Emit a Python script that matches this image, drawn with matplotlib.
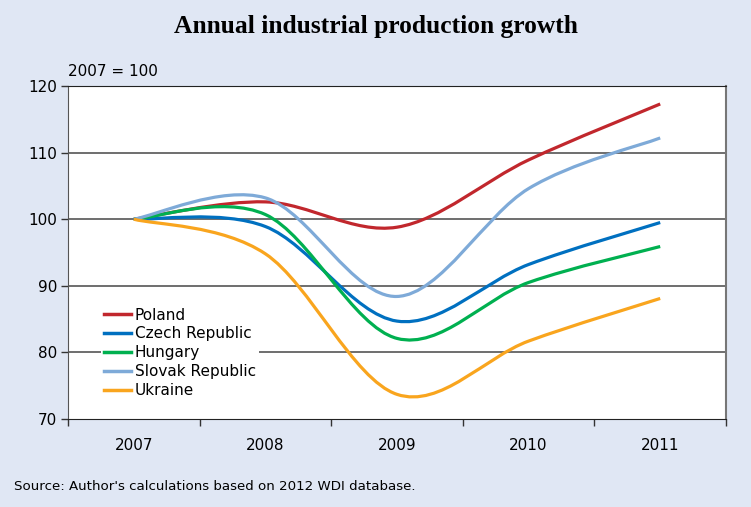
import numpy as np
import matplotlib.pyplot as plt
from matplotlib.path import Path
from matplotlib.patches import PathPatch
from matplotlib.lines import Line2D

years = ['2007', '2008', '2009', '2010', '2011']
poland = [100, 102.6, 98.8, 108.9, 117.3]
czech = [100, 98.9, 84.7, 93.2, 99.5]
hungary = [100, 100.7, 82.1, 90.5, 95.9]
slovak = [100, 103.2, 88.4, 104.6, 112.2]
ukraine = [100, 94.8, 73.7, 81.7, 88.1]

names = ['Poland', 'Czech Republic', 'Hungary', 'Slovak Republic', 'Ukraine']
series = [poland, czech, hungary, slovak, ukraine]
colors = ['#c1272d', '#0070c0', '#00b050', '#7eaad8', '#f9a51e']


def smooth_path(x, y):
    # excel style smoothed line: bezier with catmull-rom control points
    pts = np.column_stack([x, y]).astype(float)
    n = len(pts)
    verts = [pts[0]]
    codes = [Path.MOVETO]
    for i in range(n - 1):
        p0 = pts[i - 1] if i > 0 else pts[i]
        p1 = pts[i]
        p2 = pts[i + 1]
        p3 = pts[i + 2] if i + 2 < n else pts[i + 1]
        c1 = p1 + (p2 - p0) / 6.0
        c2 = p2 - (p3 - p1) / 6.0
        verts += [c1, c2, p2]
        codes += [Path.CURVE4] * 3
    return Path(verts, codes)


fig = plt.figure(figsize=(7.51, 5.07), dpi=100, facecolor='#e0e7f4')
ax = fig.add_axes([68 / 751, 1 - 419 / 507, 658 / 751, 333 / 507])
ax.set_facecolor('white')

x = np.arange(len(years))
for vals, c in zip(series, colors):
    ax.add_patch(PathPatch(smooth_path(x, vals), facecolor='none', edgecolor=c,
                           lw=2.3, capstyle='butt', zorder=3))

ax.set_xlim(-0.5, len(years) - 0.5)
ax.set_ylim(70, 120)
ax.set_yticks(np.arange(70, 121, 10))
for v in [80, 90, 100, 110]:
    ax.axhline(v, color='#555555', lw=1.2, zorder=1)

ax.set_xticks(np.arange(-0.5, len(years), 1))
ax.set_xticklabels([])
ax.set_xticks(x, minor=True)
ax.set_xticklabels(years, minor=True, fontsize=11)
ax.tick_params(axis='x', which='major', direction='out', length=5, width=1, color='#333333')
ax.tick_params(axis='x', which='minor', length=0, pad=14)
ax.tick_params(axis='y', direction='out', length=5, width=1, color='#333333', labelsize=11, pad=3)

ax.spines['top'].set_color('#222222')
ax.spines['bottom'].set_color('#222222')
ax.spines['left'].set_color('#555555')
ax.spines['right'].set_color('#777777')
ax.spines['right'].set_linewidth(1.5)

handles = [Line2D([0], [0], color=c, lw=2.5) for c in colors]
leg = ax.legend(handles, names, loc='upper left', bbox_to_anchor=(0.05, 0.344),
                fontsize=11, frameon=True, framealpha=1, edgecolor='none',
                facecolor='white', handlelength=1.8, handletextpad=0.2,
                labelspacing=0.26, borderpad=0.2, borderaxespad=0, fancybox=False)
leg.set_zorder(4)

fig.text(0.5, 1 - 27 / 507, 'Annual industrial production growth', ha='center', va='center',
         fontsize=18.4, fontweight='bold', family='Liberation Serif')
fig.text(68 / 751, 1 - 71 / 507, '2007 = 100', ha='left', va='center', fontsize=11)
fig.text(14 / 751, 1 - 486 / 507, "Source: Author's calculations based on 2012 WDI database.",
         ha='left', va='center', fontsize=9.6)

fig.savefig('out.png', dpi=100, facecolor=fig.get_facecolor())
